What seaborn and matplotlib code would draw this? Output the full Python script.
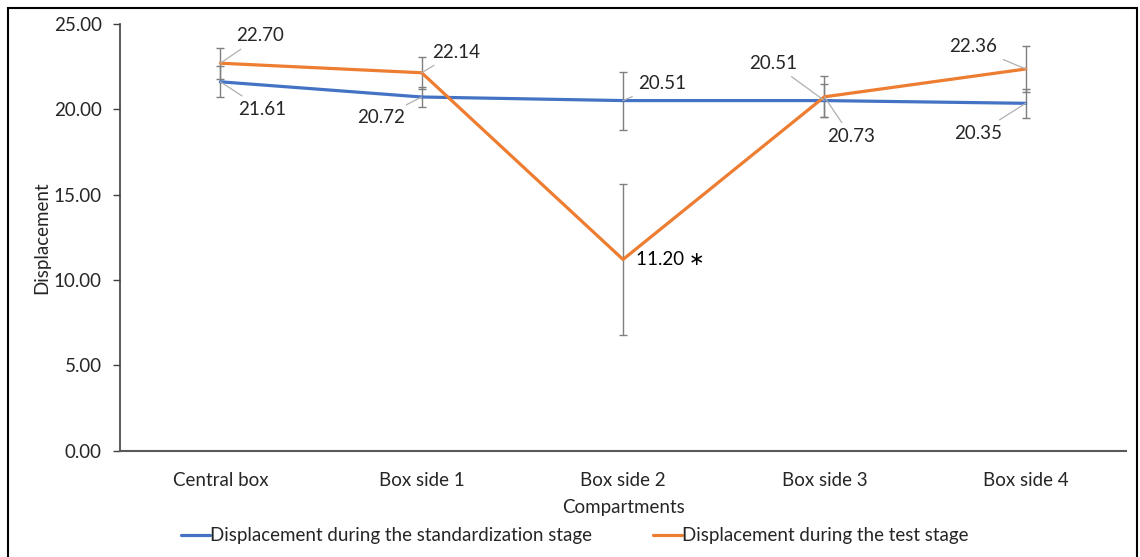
import pandas as pd
import matplotlib.pyplot as plt
import seaborn as sns
from matplotlib.patches import Rectangle

# Données
compartments = ["Central box", "Box side 1", "Box side 2", "Box side 3", "Box side 4"]
standardization = [21.61, 20.72, 20.51, 20.51, 20.35]
standardization_err = [0.90, 0.60, 1.70, 0.95, 0.85]
test = [22.70, 22.14, 11.20, 20.73, 22.36]
test_err = [0.90, 0.93, 4.45, 1.20, 1.33]

label_std = "Displacement during the standardization stage"
label_test = "Displacement during the test stage"

df = pd.DataFrame({
    "Compartments": compartments * 2,
    "Displacement": standardization + test,
    "stage": [label_std] * 5 + [label_test] * 5,
})

palette = {label_std: "#4472C4", label_test: "#ED7D31"}

sns.set_style("white")
plt.rcParams["font.family"] = ["Lato", "DejaVu Sans"]
FS = 13.5

fig = plt.figure(figsize=(11.4, 5.57), dpi=100)
ax = fig.add_axes([0.105, 0.191, 0.883, 0.766])

# barres d'erreur
x = list(range(len(compartments)))
ax.errorbar(x, standardization, yerr=standardization_err, fmt="none", ecolor="#7f7f7f",
            elinewidth=1, capsize=3, capthick=1, zorder=1)
ax.errorbar(x, test, yerr=test_err, fmt="none", ecolor="#7f7f7f",
            elinewidth=1, capsize=3, capthick=1, zorder=1)

sns.lineplot(data=df, x="Compartments", y="Displacement", hue="stage", palette=palette,
             linewidth=2.3, sort=False, ax=ax, zorder=2)

# étiquettes avec lignes de rappel (décalage x, y du texte, alignement)
lbl_std = [(0.09, 20.0, "left"), (-0.085, 19.5, "right"), (0.075, 21.5, "left"),
           (-0.135, 22.7, "right"), (-0.115, 18.6, "right")]
lbl_test = [(0.08, 24.3, "left"), (0.05, 23.35, "left"), (0.065, 11.2, "left"),
            (0.015, 18.4, "left"), (-0.14, 23.65, "right")]

for vals, lbls, star in [(standardization, lbl_std, False), (test, lbl_test, True)]:
    for i, (v, (dx, ty, ha)) in enumerate(zip(vals, lbls)):
        txt = f"{v:.2f}"
        if star and i == 2:
            ax.text(i + dx, ty, txt + " \u2217", ha=ha, va="center", fontsize=FS, color="black")
            continue
        ax.annotate(txt, xy=(i, v), xytext=(i + dx, ty), ha=ha, va="center", fontsize=FS,
                    arrowprops=dict(arrowstyle="-", color="#b0b0b0", lw=0.9,
                                    shrinkA=2, shrinkB=0))

ax.set_xlim(-0.5, 4.5)
ax.set_ylim(0, 25)
ax.set_yticks([0, 5, 10, 15, 20, 25])
ax.set_yticklabels([f"{t:.2f}" for t in [0, 5, 10, 15, 20, 25]], fontsize=FS)
ax.tick_params(axis="y", left=True, length=5, width=1, color="#404040", pad=8)
ax.tick_params(axis="x", bottom=False, labelsize=FS, pad=12)
ax.set_xlabel("Compartments", fontsize=FS, labelpad=7)
ax.set_ylabel("Displacement", fontsize=FS, labelpad=2)
for side in ["top", "right"]:
    ax.spines[side].set_visible(False)
ax.spines["left"].set_color("#404040")
ax.spines["bottom"].set_color("#595959")
ax.spines["left"].set_linewidth(1.2)
ax.spines["bottom"].set_linewidth(1.5)

handles, labels = ax.get_legend_handles_labels()
ax.legend(handles, labels, loc="center", bbox_to_anchor=(0.452, -0.2), ncol=2,
          frameon=False, fontsize=FS, handlelength=1.5, handletextpad=0.0,
          columnspacing=3.3)

# cadre noir autour de la figure
fig.add_artist(Rectangle((8 / 1140, -0.02), 1129 / 1140, 1 - 8 / 557 + 0.02,
                         transform=fig.transFigure, fill=False, edgecolor="black", lw=1.5))

plt.savefig("out.png", dpi=100)
